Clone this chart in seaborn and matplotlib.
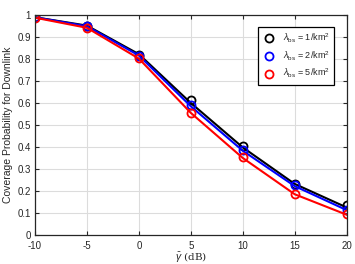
import matplotlib
matplotlib.use("Agg")
import matplotlib.pyplot as plt
import seaborn as sns
import pandas as pd

snr_db = [-10, -5, 0, 5, 10, 15, 20]
labels = [r"$\lambda_{\rm bs}$ = 1/km$^2$", r"$\lambda_{\rm bs}$ = 2/km$^2$", r"$\lambda_{\rm bs}$ = 5/km$^2$"]
colors = ["black", "blue", "red"]
# analysis (lines)
ana_1 = [0.990, 0.952, 0.822, 0.600, 0.398, 0.232, 0.125]
ana_2 = [0.990, 0.949, 0.816, 0.585, 0.383, 0.222, 0.113]
ana_5 = [0.988, 0.942, 0.802, 0.555, 0.350, 0.185, 0.092]
# simulation (markers)
sim_1 = [0.990, 0.950, 0.820, 0.612, 0.405, 0.230, 0.136]
sim_2 = [0.990, 0.948, 0.815, 0.590, 0.386, 0.225, 0.114]
sim_5 = [0.988, 0.943, 0.805, 0.555, 0.355, 0.186, 0.095]

sns.set_style("ticks")
plt.rcParams['font.family'] = ['Liberation Sans', 'DejaVu Sans']
plt.rcParams['mathtext.fontset'] = 'custom'
plt.rcParams['mathtext.rm'] = 'Liberation Sans'
plt.rcParams['mathtext.it'] = 'Liberation Sans:italic'

fig = plt.figure(figsize=(3.55, 2.64), dpi=100)
ax = fig.add_axes([0.0986, 0.11, 0.878, 0.833])

for ana, sim, c, lab in zip([ana_1, ana_2, ana_5], [sim_1, sim_2, sim_5], colors, labels):
    dfa = pd.DataFrame({"x": snr_db, "y": ana})
    sns.lineplot(data=dfa, x="x", y="y", ax=ax, color=c, lw=1.5, legend=False)
    dfs = pd.DataFrame({"x": snr_db, "y": sim})
    ax.plot(dfs["x"], dfs["y"], linestyle="none", marker="o", ms=5.8, mfc="none",
            mec=c, mew=1.3, label=lab)

ax.set_xlim(-10, 20)
ax.set_ylim(0, 1)
ax.set_xticks(snr_db)
ax.set_xticklabels([str(v) for v in snr_db])
yt = [0, 0.1, 0.2, 0.3, 0.4, 0.5, 0.6, 0.7, 0.8, 0.9, 1]
ax.set_yticks(yt)
ax.set_yticklabels(["0", "0.1", "0.2", "0.3", "0.4", "0.5", "0.6", "0.7", "0.8", "0.9", "1"])
ax.tick_params(direction="in", top=True, right=True, labelsize=7, length=3, width=0.8, colors="#262626", pad=3)
ax.tick_params(axis="x", pad=4)
ax.grid(True, color="#dcdcdc", lw=0.8)
ax.set_axisbelow(True)
for s in ax.spines.values():
    s.set_color("#262626")
    s.set_linewidth(0.9)

ax.set_ylabel("Coverage Probability for Downlink", fontsize=7.5, color="#262626", labelpad=3)
ax.set_xlabel(r"$\bar{\gamma}$ (dB)", fontsize=7.5, color="#262626", family="DejaVu Serif", labelpad=0)

leg = ax.legend(loc="upper right", fontsize=6.5, frameon=True, fancybox=False,
                edgecolor="black", framealpha=1, handlelength=1.5, borderpad=0.5,
                labelspacing=0.5, bbox_to_anchor=(0.975, 0.965))
leg.get_frame().set_linewidth(0.9)

fig.savefig("out.png", dpi=100)
